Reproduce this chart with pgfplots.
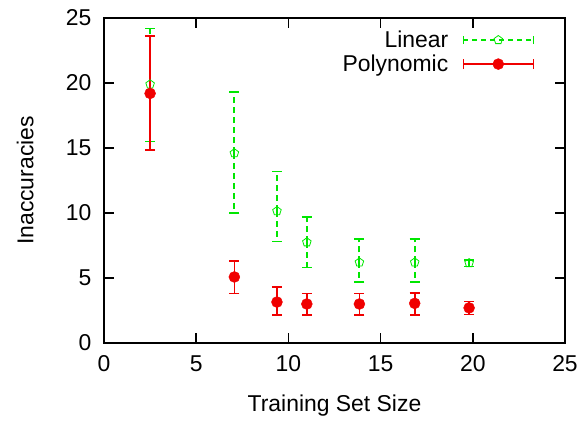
\documentclass[border=0pt]{standalone}
\usepackage{pgfplots}
\pgfplotsset{compat=1.18}
\usepackage{pgfplotstable}
\usepackage{fontspec}
\setmainfont{Liberation Sans}

% x, y, upper error, lower error
\pgfplotstableread{
x      y      ep    em
2.5    19.9   4.3   4.4
7.07   14.6   4.7   4.6
9.38   10.15  3.05  2.35
11.0   7.75   1.95  1.95
13.85  6.2    1.8   1.5
16.85  6.2    1.8   1.5
19.8   6.15   0.25  0.25
}\linear

\pgfplotstableread{
x      y      ep    em
2.5    19.2   4.4   4.35
7.07   5.08   1.22  1.28
9.38   3.15   1.15  1.0
11.0   3.0    0.8   0.85
13.85  3.0    0.8   0.85
16.85  3.05   0.8   0.9
19.8   2.7    0.5   0.5
}\poly

\definecolor{gpgreen}{RGB}{0,230,0}
\definecolor{gpred}{RGB}{240,0,0}
\newcommand{\bigfont}{\fontsize{23}{27}\selectfont}

\begin{document}
\begin{tikzpicture}
\begin{axis}[
  name=ax,
  scale only axis,
  width=461bp, height=325bp,
  xmin=0, xmax=25, ymin=0, ymax=25,
  xtick={0,5,...,25}, ytick={0,5,...,25},
  tick pos=both, tick align=inside,
  major tick length=10bp,
  axis line style={line width=1.6bp},
  tick style={black, line width=1.4bp},
  /pgf/number format/assume math mode=true,
  tick label style={font=\bigfont},
  xticklabel style={yshift=-9bp},
  yticklabel style={xshift=-9bp},
  xlabel={Training Set Size},
  ylabel={Inaccuracies},
  every axis x label/.style={at={(axis description cs:0.5,-0.212)}, anchor=base, font=\bigfont},
  every axis y label/.style={at={(axis description cs:-0.171,0.5)}, rotate=90, anchor=center, font=\bigfont},
  legend plot pos=right,
  legend cell align=right,
  legend style={draw=none, fill=none, font=\bigfont,
    at={(axis description cs:0.94,0.973)}, anchor=north east,
    row sep=2bp},
]
\addplot[gpgreen, only marks, mark=pentagon, mark size=4.5bp,
  mark options={solid, line width=0.8bp},
  legend image code/.code={
    \path[draw=none, fill=none] (0bp,0bp) rectangle (13bp,0bp);
    \draw[gpgreen, line width=1.6bp, dash pattern=on 5bp off 4bp] (13bp,0bp) -- (83bp,0bp);
    \draw[gpgreen, line width=1.5bp] (13bp,-4bp) -- (13bp,4bp) (83bp,-4bp) -- (83bp,4bp);
    \draw[gpgreen, fill=white, line width=0.8bp] plot[mark=pentagon, mark size=4.5bp] coordinates {(48bp,0bp)};
  },
  error bars/.cd, y dir=both, y explicit,
  error bar style={gpgreen, line width=1.8bp, dash pattern=on 6bp off 4bp},
  error mark options={gpgreen, solid, line width=1.5bp, mark size=5bp, rotate=90},
  ]
  table[x=x, y=y, y error plus=ep, y error minus=em] {\linear};
\addlegendentry{Linear}
\addplot[gpred, only marks, mark=*, mark size=5.5bp,
  legend image code/.code={
    \path[draw=none, fill=none] (0bp,0bp) rectangle (13bp,0bp);
    \draw[gpred, line width=1.7bp] (13bp,0bp) -- (83bp,0bp);
    \draw[gpred, line width=1.5bp] (13bp,-5bp) -- (13bp,5bp) (83bp,-5bp) -- (83bp,5bp);
    \draw[gpred, fill=gpred] plot[mark=*, mark size=5.5bp] coordinates {(48bp,0bp)};
  },
  error bars/.cd, y dir=both, y explicit,
  error bar style={gpred, line width=1.6bp, solid},
  error mark options={gpred, line width=1.5bp, mark size=5bp, rotate=90},
  ]
  table[x=x, y=y, y error plus=ep, y error minus=em] {\poly};
\addlegendentry{Polynomic}
\end{axis}
\useasboundingbox ([shift={(-104bp,-78bp)}]ax.south west) rectangle ([shift={(17bp,18bp)}]ax.north east);
\end{tikzpicture}
\end{document}
